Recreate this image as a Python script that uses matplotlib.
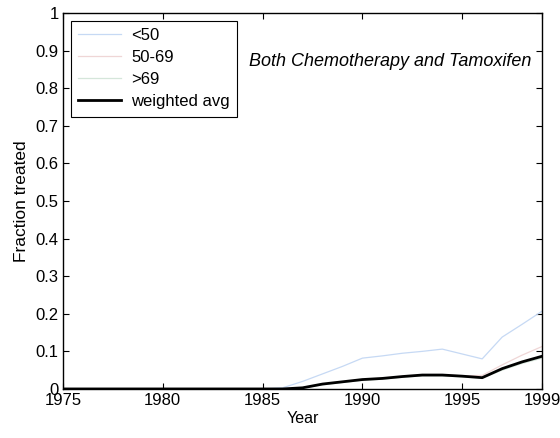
import matplotlib.pyplot as plt

plt.rcParams['font.family'] = ['Liberation Sans', 'DejaVu Sans']

years = list(range(1975, 2000))
under_50 = [0, 0, 0, 0, 0, 0, 0, 0, 0, 0, 0, 0.003, 0.02, 0.04, 0.06, 0.082,
            0.088, 0.095, 0.1, 0.106, 0.093, 0.08, 0.138, 0.172, 0.207]
from_50_69 = [0, 0, 0, 0, 0, 0, 0, 0, 0, 0, 0, 0, 0.003, 0.013, 0.019, 0.025,
              0.028, 0.033, 0.037, 0.037, 0.035, 0.036, 0.064, 0.09, 0.113]
over_69 = [0, 0, 0, 0, 0, 0, 0, 0, 0, 0, 0, 0, 0.002, 0.011, 0.017, 0.023,
           0.026, 0.031, 0.035, 0.035, 0.032, 0.029, 0.05, 0.068, 0.082]
weighted = [0, 0, 0, 0, 0, 0, 0, 0, 0, 0, 0, 0, 0.003, 0.013, 0.019, 0.025,
            0.028, 0.033, 0.037, 0.037, 0.034, 0.03, 0.054, 0.072, 0.087]

fig = plt.figure(figsize=(5.6, 4.38), dpi=100)
ax = fig.add_axes([0.1125, 0.112, 0.8555, 0.858])

ax.plot(years, under_50, color='#c6d9f4', lw=0.9, label='<50')
ax.plot(years, from_50_69, color='#efd6d6', lw=0.9, label='50-69')
ax.plot(years, over_69, color='#d5e6da', lw=0.9, label='>69')
ax.plot(years, weighted, color='black', lw=2, label='weighted avg')

ax.set_xlim(1975, 1999)
ax.set_ylim(0, 1)
ax.set_xticks([1975, 1980, 1985, 1990, 1995, 1999])
ax.set_yticks([i / 10 for i in range(11)])
ax.set_yticklabels(['0', '0.1', '0.2', '0.3', '0.4', '0.5', '0.6', '0.7', '0.8', '0.9', '1'])
ax.tick_params(direction='in', top=True, right=True, labelsize=12, length=4, pad=3)
for s in ax.spines.values():
    s.set_linewidth(1)

ax.set_xlabel('Year', fontsize=11.5, labelpad=2)
ax.set_ylabel('Fraction treated', fontsize=12.5, labelpad=5)

ax.text(1991.4, 0.87, 'Both Chemotherapy and Tamoxifen', style='italic',
        fontsize=13, ha='center', va='center')

leg = ax.legend(loc='upper left', fontsize=12, fancybox=False, framealpha=1,
                edgecolor='black', handlelength=2.6, handletextpad=0.6,
                borderaxespad=0.45, labelspacing=0.42, borderpad=0.45)
leg.get_frame().set_linewidth(0.8)

fig.savefig('out.png', dpi=100)
